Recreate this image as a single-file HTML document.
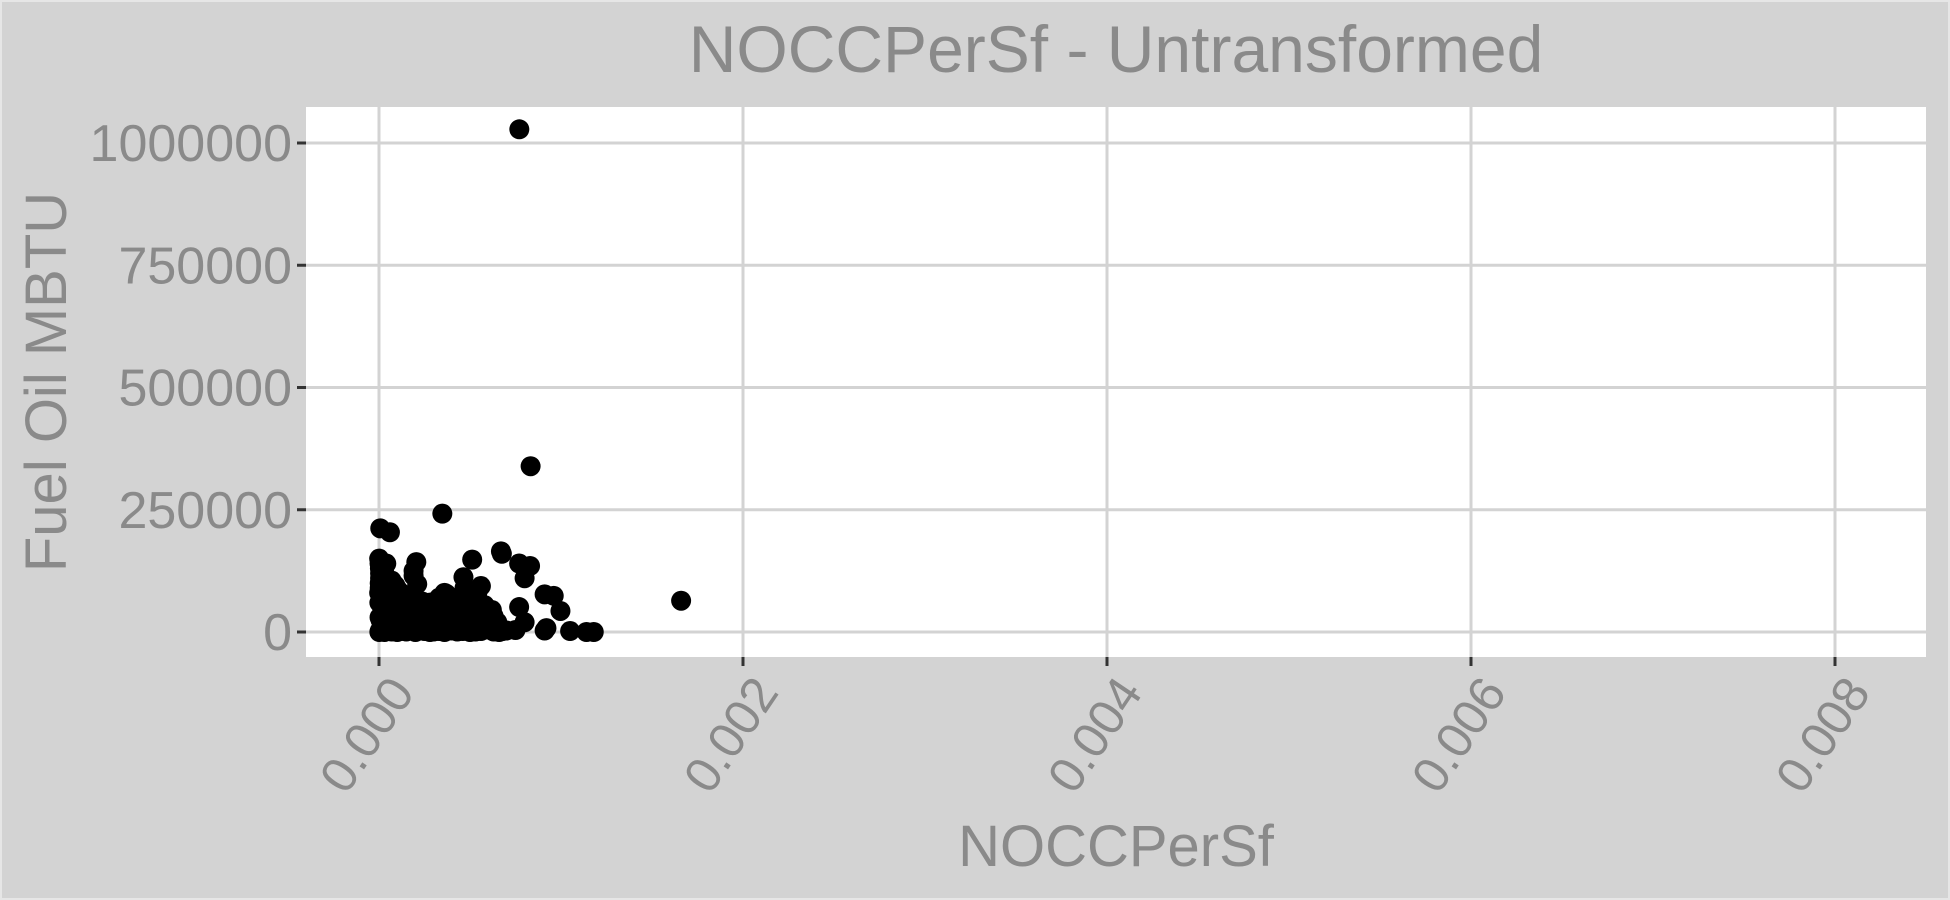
<!DOCTYPE html>
<html><head><meta charset="utf-8"><style>
html,body{margin:0;padding:0;background:#d3d3d3;}
svg{display:block;font-family:"Liberation Sans",sans-serif;}
</style></head><body>
<svg id="chart" width="1950" height="900" viewBox="0 0 1950 900" xmlns="http://www.w3.org/2000/svg">
<rect x="1" y="1" width="1948" height="898" fill="#d3d3d3" stroke="#e6e6e6" stroke-width="2"/>
<text x="1116" y="72" font-size="66" fill="#8a8a8a" text-anchor="middle">NOCCPerSf - Untransformed</text>
<rect x="306" y="107" width="1620" height="550" fill="#ffffff"/>
<g id="grid"></g>
<g id="ticks"></g>
<g id="points"></g>
<text x="1116" y="866" font-size="58" fill="#8a8a8a" text-anchor="middle">NOCCPerSf</text>
<text transform="translate(66,382) rotate(-90)" font-size="58" fill="#8a8a8a" text-anchor="middle">Fuel Oil MBTU</text>
</svg>
<script>
const xTicks=[0,0.002,0.004,0.006,0.008];
const xTickLabels=["0.000","0.002","0.004","0.006","0.008"];
const yTicks=[0,250000,500000,750000,1000000];
const yTickLabels=["0","250000","500000","750000","1000000"];
const xVals=[0.000771,0.000833,0.000348,0.000007,0.00006,0.00166,0.00067,0.000675,0.000512,0.000205,0.00077,0.00083,0.0008,0.000464,0.00056,0.00091,0.00096,0.000997,0.00077,0.0008,0.00091,0.00092,0.00105,0.00114,0.00118,0.00068,
0.000002,0.000005,0.00001,0.000015,0.00002,0.00003,0.00004,0.00005,0.00007,0.00008,0.0001,0.00012,0.00015,0.00018,0.0002,0.00022,0.00025,0.00028,0.0003,0.00033,0.00036,0.0004,0.00043,0.00046,0.0005,0.00053,0.00056,0.0006,0.00063,0.00066,0.0007,0.00075,
0.000003,0.000008,0.00002,0.00004,0.00006,0.00009,0.00011,0.00014,0.00017,0.00021,0.00024,0.00027,0.00031,0.00035,0.00038,0.00042,0.00045,0.00049,0.00052,0.00055,0.00059,0.00062,0.00065,
0.000001,0.000004,0.000006,0.00001,0.00003,0.00005,0.00008,0.0001,0.00013,0.00016,0.0002,0.00025,0.0003,0.00035,0.0004,0.00045,0.0005,0.00058,
0.000001,0.000003,0.000005,0.00001,0.00002,0.00004,0.00007,0.0001,0.00015,0.00019,0.00024,0.00032,0.00037,0.00041,0.00047,0.00051,0.00061,
0.00002,0.00005,0.00008,0.00011,0.00014,0.00017,0.0002,0.00023,0.00026,0.00029,0.00032,0.00035,0.00038,0.00041,0.00044,0.00047,0.0005,
0.00002,0.00005,0.00008,0.00011,0.00014,0.00017,0.0002,0.00023,0.00026,0.00029,0.00032,0.00035,0.00038,0.00041,0.00044,0.00047,
0.00001,0.00004,0.00007,0.0001,0.00013,0.00016,0.00019,0.00022,0.00025,0.00028,0.00031,0.00034,0.00037,0.0004,
0.000002,0.000004,0.000006,0.000008,0.00003,0.00006,0.00009,0.00012,0.00004,0.00007,0.00019,0.00021,0.00033,0.00036,0.00047,0.00054,0.00058,0.00062,0.00063,0.0006,0.00065];
const yVals=[1028000,339000,242000,212000,204000,64000,165000,160000,148000,143000,140000,135000,110000,112000,94000,77000,74000,43000,51000,20000,3000,8000,2000,0,0,2000,
0,3000,5000,2000,1000,0,4000,2000,1000,3000,0,2000,1000,4000,0,3000,2000,0,1000,2000,0,3000,1000,2000,0,1000,2000,5000,1000,0,3000,4000,
30000,25000,40000,20000,35000,28000,15000,32000,18000,22000,30000,12000,25000,20000,15000,28000,10000,24000,18000,30000,22000,14000,20000,
80000,100000,120000,90000,70000,60000,75000,50000,55000,45000,65000,48000,40000,58000,35000,46000,38000,25000,
150000,140000,130000,110000,95000,85000,105000,88000,72000,125000,62000,55000,78000,68000,42000,60000,30000,
10000,12000,14000,10000,12000,14000,10000,12000,14000,10000,12000,14000,10000,12000,14000,10000,8000,
45000,48000,42000,46000,44000,50000,40000,46000,44000,42000,48000,40000,45000,38000,42000,36000,
65000,68000,62000,66000,60000,64000,58000,62000,56000,60000,55000,58000,52000,54000,
60000,90000,110000,130000,120000,85000,95000,80000,140000,100000,115000,98000,70000,80000,90000,80000,55000,45000,32000,25000,10000];
const NS='http://www.w3.org/2000/svg';
const L=306,R=1926,T=107,B=657;
const X0=379,XPER=182000;
function xs(v){return X0+v*XPER;}
function ys(v){return 632-v*(489/1000000);}
const grid=document.getElementById('grid'),ticks=document.getElementById('ticks'),pts=document.getElementById('points');
function mk(tag,attrs,parent){const e=document.createElementNS(NS,tag);for(const k in attrs)e.setAttribute(k,attrs[k]);parent.appendChild(e);return e;}
xTicks.forEach((t,i)=>{
 const x=xs(t);
 const g=mk('line',{x1:x,x2:x,y1:T,y2:B,stroke:'#d3d3d3','stroke-width':3},grid);
 
 
 const tk=mk('line',{x1:x,x2:x,y1:B,y2:B+9,stroke:'#333','stroke-width':3},ticks);
 
 
 const tx=mk('text',{transform:`translate(${x+26},${B+28}) rotate(-56)`,'font-size':50,fill:'#8a8a8a','text-anchor':'end','dominant-baseline':'middle'},ticks);
 tx.textContent=xTickLabels[i];
 
 
});
yTicks.forEach((t,i)=>{
 const y=ys(t);
 const g=mk('line',{x1:L,x2:R,y1:y,y2:y,stroke:'#d3d3d3','stroke-width':3},grid);
 
 
 const tk=mk('line',{x1:L-9,x2:L,y1:y,y2:y,stroke:'#333','stroke-width':3},ticks);
 
 
 const tx=mk('text',{x:L-14,y:y+18,'font-size':52,fill:'#8a8a8a','text-anchor':'end'},ticks);
 tx.textContent=yTickLabels[i];
 
 
});
xVals.forEach((v,i)=>{
 const c=mk('circle',{cx:xs(v),cy:ys(yVals[i]),r:10,fill:'#000'},pts);
 
 
});
</script>
</body></html>
